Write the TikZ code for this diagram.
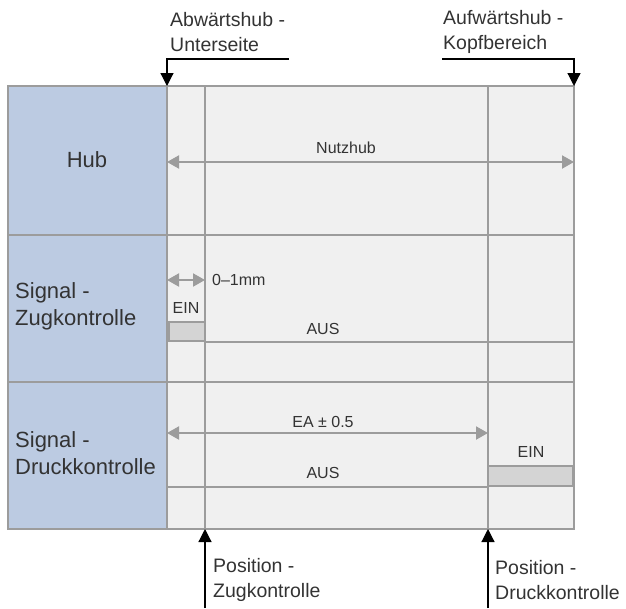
\documentclass[tikz,border=0pt]{standalone}
\usepackage{fontspec}
\setmainfont{Liberation Sans}
\usepackage{xcolor}
\usetikzlibrary{arrows.meta}

\definecolor{hubblue}{HTML}{BCCBE2}
\definecolor{panelgray}{HTML}{F0F0F0}
\definecolor{rulegray}{HTML}{9C9C9C}
\definecolor{boxgray}{HTML}{D4D4D4}
\definecolor{textgray}{HTML}{333333}

\begin{document}
\begin{tikzpicture}[x=1pt, y=-1pt]
			\tikzstyle{every node}=[text=textgray, inner sep=0pt];
			\tikzstyle{rowlabel}=[font=\fontsize{22}{27}\selectfont, align=left];
			\tikzstyle{sidelabel}=[font=\fontsize{19.5}{24.5}\selectfont, align=left, anchor=west];
			\tikzstyle{smalltxt}=[font=\fontsize{16}{19}\selectfont];
			\tikzstyle{gridline}=[rulegray, line width=1.2pt];
			\tikzstyle{dimline}=[rulegray, line width=2pt, {Triangle[width=13pt,length=12pt]}-{Triangle[width=13pt,length=12pt]}];
			\tikzstyle{marker}=[black, line width=1.2pt, -{Triangle[width=13pt,length=13pt]}];
			\tikzstyle{signal}=[rulegray, line width=2.6pt];
			
			\useasboundingbox (0,0) rectangle (626,608);
			
			%Frame
			\coordinate (frameNW) at (8,86);
			\coordinate (frameSE) at (574,529);
			\coordinate (hubNE) at (167,86);
			\coordinate (hubSE) at (167,529);
			\coordinate (zugTop) at (205,86);
			\coordinate (zugBot) at (205,529);
			\coordinate (druckTop) at (488,86);
			\coordinate (druckBot) at (488,529);
			\coordinate (endTop) at (574,86);
			\fill[panelgray] (frameNW) rectangle (frameSE);
			\fill[hubblue] (frameNW) rectangle (hubSE);
			\draw[gridline] (zugTop) -- (zugBot);
			\draw[gridline] (druckTop) -- (druckBot);
			\draw[gridline] (8,235) -- (574,235);
			\draw[gridline] (8,382) -- (574,382);
			\draw[gridline] (hubNE) -- (hubSE);
			\draw[gridline, line width=1.6pt] (frameNW) rectangle (frameSE);
			
			%Row titles
			\node[rowlabel] (hub) at (87,160) {Hub};
			\node[rowlabel, anchor=west] (zugSig) at (15,306) {Signal -\\Zugkontrolle};
			\node[rowlabel, anchor=west] (druckSig) at (15,453) {Signal -\\Druckkontrolle};
			
			%Hub
			\coordinate (hubL) at (167,162);
			\coordinate (hubR) at (574,162);
			\draw[dimline] (hubL) -- (hubR);
			\node[smalltxt] (nutz) at (346,148) {Nutzhub};
			
			%Zugkontrolle
			\coordinate (tolL) at (167,280);
			\coordinate (tolR) at (205,280);
			\draw[dimline] (tolL) -- (tolR);
			\node[smalltxt, anchor=west] (tol) at (212,280) {0--1mm};
			\draw[signal, fill=boxgray] (168.3,322) rectangle (205,341);
			\node[smalltxt] (zugEin) at (186,308) {EIN};
			\draw[signal] (205,342) -- (574,342);
			\node[smalltxt] (zugAus) at (323,329) {AUS};
			
			%Druckkontrolle
			\coordinate (eaL) at (167,433);
			\coordinate (eaR) at (488,433);
			\draw[dimline] (eaL) -- (eaR);
			\node[smalltxt] (ea) at (323,422) {EA ± 0.5};
			\draw[signal, fill=boxgray] (488,466) rectangle (573,486);
			\node[smalltxt] (druckEin) at (531,452) {EIN};
			\draw[signal] (167,487) -- (488,487);
			\node[smalltxt] (druckAus) at (323,473) {AUS};
			
			%Stroke ends
			\node[sidelabel] (abw) at (170,32) {Abwärtshub -\\Unterseite};
			\node[sidelabel] (aufw) at (443,32) {Aufwärtshub -\\Kopfbereich};
			\coordinate (abwEnd) at (289,59);
			\coordinate (aufwEnd) at (442,59);
			\draw[marker] (abwEnd) -| (hubNE);
			\draw[marker] (aufwEnd) -| (endTop);
			
			%Switch positions
			\node[sidelabel] (zugPos) at (213,580) {Position -\\Zugkontrolle};
			\node[sidelabel] (druckPos) at (495,580) {Position -\\Druckkontrolle};
			\coordinate (zugFoot) at (205,608);
			\coordinate (druckFoot) at (488,608);
			\draw[marker] (zugFoot) -- (zugBot);
			\draw[marker] (druckFoot) -- (druckBot);
\end{tikzpicture}
\end{document}
